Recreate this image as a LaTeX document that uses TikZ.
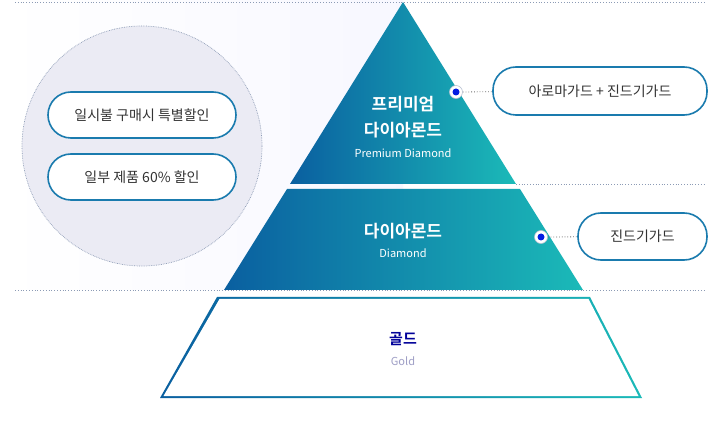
\documentclass[tikz,border=0pt]{standalone}
\usepackage{fontspec}
\setmainfont{Noto Sans CJK KR}
\newfontfamily\kb{Noto Sans CJK KR Bold}
\definecolor{cA}{HTML}{0A5FA0}
\definecolor{cB}{HTML}{1BBAB8}
\definecolor{dotl}{HTML}{8C9BB5}
\definecolor{pillb}{HTML}{1A7BAE}
\definecolor{txt}{HTML}{333333}
\tikzset{x=1pt,y=-1pt,
 pill/.style={draw=pillb,line width=1.6pt,fill=white,rounded corners=23pt,inner sep=0pt,text=txt,font=\fontsize{14}{16}\selectfont},
 sep/.style={draw=dotl,dotted,line width=0.8pt},
 head/.style={text=white,font=\kb\fontsize{17}{20}\selectfont},
 sub/.style={text=white,font=\fontsize{11}{13}\selectfont},
 marker/.style={circle,draw=dotl!60,fill=white,line width=0.6pt,minimum size=13pt,inner sep=0pt}}
\begin{document}
\begin{tikzpicture}
\useasboundingbox (0,0) rectangle (720,430);
\fill[white] (0,0) rectangle (720,430);
\shade[left color=white,right color=black!4!blue!3!white] (0,0) rectangle (403,290);
\node[circle,minimum size=240pt,fill=blue!30!gray!12,draw=dotl,densely dotted,line width=0.7pt] (circ) at (142,146) {};
\draw[sep] (15,2) -- (705,2);
\draw[sep] (516,184) -- (705,184);
\draw[sep] (15,290) -- (705,290);
% pyramid
\shade[left color=cA,right color=cB] (403,2) -- (516,184) -- (290,184) -- cycle;
\shade[left color=cA,right color=cB] (287,189) -- (520,189) -- (583,290) -- (224,290) -- cycle;
\shade[left color=cA,right color=cB] (217,297) -- (590,297) -- (642,398) -- (160,398) -- cycle;
\fill[white] (219.5,299) -- (588.5,299) -- (638.5,396) -- (163.5,396) -- cycle;
\node[head] (t1) at (403,104) {프리미엄};
\node[head] (t2) at (403,130) {다이아몬드};
\node[sub] (t3) at (403,153) {Premium Diamond};
\node[head] (m1) at (403,231) {다이아몬드};
\node[sub] (m2) at (403,253) {Diamond};
\node[font=\kb\fontsize{15}{18}\selectfont,text=blue!60!black] (g1) at (403,339) {골드};
\node[font=\fontsize{11}{13}\selectfont,text=blue!25!gray!60] (g2) at (403,361) {Gold};
% pills
\node[pill,minimum width=188pt,minimum height=46pt] (p1) at (142,115) {일시불 구매시 특별할인};
\node[pill,minimum width=188pt,minimum height=46pt] (p2) at (142,177) {일부 제품 60\% 할인};
\node[pill,minimum width=214pt,minimum height=48pt] (r1) at (600,91) {아로마가드 + 진드기가드};
\node[pill,minimum width=129pt,minimum height=47pt] (r2) at (642.5,236.5) {진드기가드};
% markers
\node[marker] (d1) at (456,92) {};
\fill[blue!70!cA] (d1) circle (3.5pt);
\node[marker] (d2) at (541,237) {};
\fill[blue!70!cA] (d2) circle (3.5pt);
\draw[sep,draw=txt!70] (d1) -- (r1);
\draw[sep,draw=txt!70] (d2) -- (r2);
\end{tikzpicture}
\end{document}
